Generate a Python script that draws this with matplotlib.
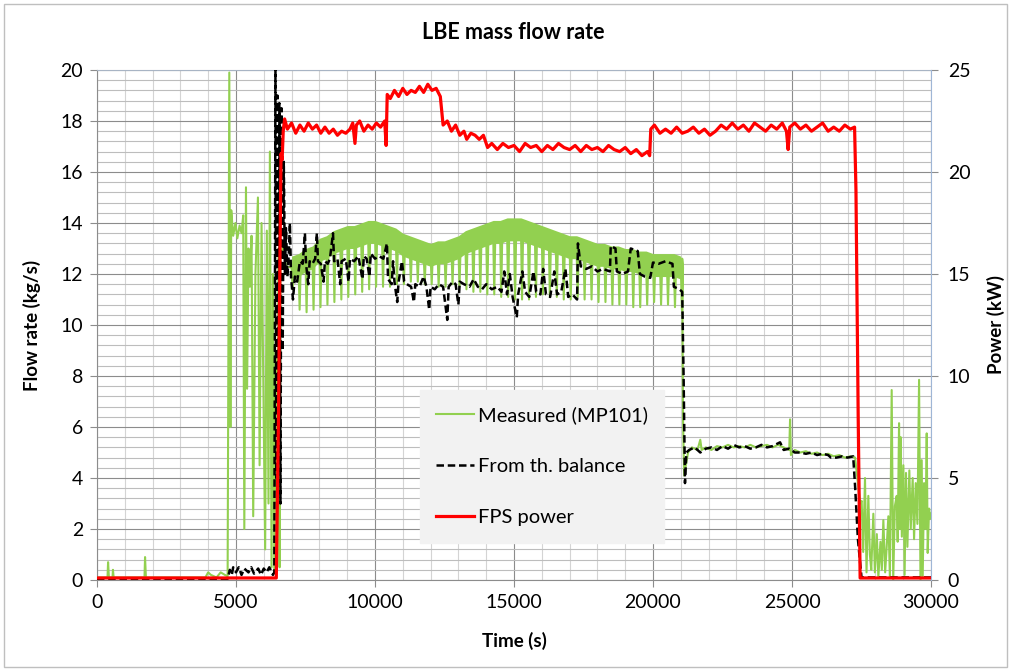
import numpy as np
import matplotlib
matplotlib.use("Agg")
import matplotlib.pyplot as plt
from matplotlib.patches import Rectangle

plt.rcParams['font.family'] = ['Lato', 'DejaVu Sans']

# ---- data ----
# FPS power (kW), right axis
red_t = [0, 6450, 6530, 6580, 6620, 6660, 6700, 6750, 6850, 7000, 7150, 7300, 7450, 7600,
         7750, 7900, 8050, 8200, 8350, 8500, 8650, 8800, 8950, 9100, 9200, 9280, 9330,
         9450, 9600, 9750, 9900, 10050, 10200, 10350, 10400, 10440, 10550, 10700, 10850,
         11000, 11150, 11300, 11450, 11600, 11750, 11900, 12050, 12200, 12350, 12450,
         12600, 12750, 12900, 13050, 13200, 13300, 13450, 13600, 13750, 13900, 14050,
         14200, 14400, 14600, 14800, 15000, 15200, 15400, 15600, 15800, 16000, 16200,
         16400, 16600, 16800, 17000, 17200, 17400, 17600, 17800, 18000, 18200, 18400,
         18600, 18800, 19000, 19200, 19400, 19600, 19800, 19880, 19920, 20050, 20250,
         20450, 20650, 20850, 21050, 21250, 21450, 21650, 21850, 22050, 22250, 22450,
         22650, 22850, 23050, 23250, 23450, 23650, 23850, 24050, 24250, 24450, 24650,
         24800, 24860, 24920, 25100, 25300, 25500, 25700, 25900, 26100, 26300, 26500,
         26700, 26900, 27100, 27250, 27300, 27380, 27450, 30000]
red_p = [0.1, 0.1, 8.0, 15.5, 20.9, 20.6, 22.0, 22.6, 22.1, 22.4, 21.9, 22.3, 22.0, 22.4,
         22.1, 22.3, 21.9, 22.2, 21.9, 22.1, 21.8, 22.0, 21.9, 22.1, 22.4, 21.4, 22.3,
         22.5, 22.0, 22.3, 22.1, 22.4, 22.2, 22.5, 21.3, 23.8, 23.6, 24.0, 23.7,
         24.1, 23.8, 24.0, 23.9, 24.2, 23.9, 24.3, 24.0, 24.1, 23.7, 22.3,
         22.5, 22.0, 22.3, 21.8, 22.0, 21.6, 21.9, 21.8, 21.6, 21.8, 21.2,
         21.4, 21.1, 21.4, 21.2, 21.3, 21.0, 21.4, 21.2, 21.3, 21.0, 21.3,
         21.1, 21.4, 21.2, 21.1, 21.3, 21.0, 21.3, 21.1, 21.2, 21.0, 21.3,
         21.1, 21.0, 21.2, 20.9, 21.1, 20.8, 21.0, 20.8, 22.1, 22.3, 21.9,
         22.1, 21.9, 22.2, 21.9, 22.0, 22.2, 21.9, 22.1, 21.8, 22.0, 22.3,
         22.1, 22.4, 22.1, 22.3, 22.0, 22.4, 22.2, 22.0, 22.3, 22.1, 22.4,
         22.0, 21.1, 22.2, 22.4, 22.1, 22.3, 22.0, 22.2, 22.4, 22.0, 22.2,
         22.0, 22.3, 22.1, 22.2, 19.1, 8.0, 0.1, 0.1]

# flow from thermal balance (kg/s)
blk_t = [0, 4700, 4780, 4850, 4900, 5000, 5100, 5200, 5300, 5450, 5550, 5650, 5800, 5900,
         6000, 6100, 6200, 6330, 6380, 6420, 6450, 6490, 6520, 6560, 6600, 6640, 6680,
         6720, 6760, 6800, 6850, 6900, 6940, 6980, 7050, 7120, 7200, 7300, 7400, 7480,
         7520, 7600, 7650, 7750, 7850, 7910, 7950, 8050, 8150, 8200, 8300, 8380, 8490,
         8530, 8650, 8750, 8800, 8950, 9050, 9100, 9250, 9400, 9550, 9600, 9700, 9800,
         9850, 10000, 10150, 10300, 10430, 10470, 10600, 10650, 10700, 10800, 10850,
         10970, 11050, 11150, 11300, 11400, 11450, 11600, 11750, 11850, 11950, 12000,
         12150, 12300, 12450, 12600, 12650, 12800, 12900, 13000, 13050, 13200, 13400,
         13550, 13700, 13850, 14000, 14200, 14400, 14550, 14650, 14750, 14850, 14950,
         15100, 15150, 15300, 15400, 15550, 15700, 15800, 15950, 16050, 16150, 16300,
         16450, 16550, 16700, 16850, 16950, 17100, 17270, 17300, 17400, 17600, 17800,
         18000, 18200, 18450, 18480, 18650, 18700, 18900, 19100, 19200, 19450, 19530,
         19700, 19900, 20000, 20200, 20450, 20700, 20750, 20950, 21050, 21100, 21150,
         21200, 21300, 21500, 21700, 21900, 22100, 22300, 22500, 22700, 22900, 23100,
         23300, 23500, 23700, 23900, 24100, 24300, 24570, 24700, 24900, 25100, 25300,
         25500, 25700, 25900, 26100, 26300, 26400, 26600, 26800, 27000, 27200, 27270,
         27370, 27500, 30000]
blk_f = [0.05, 0.05, 0.4, 0.2, 0.5, 0.3, 0.5, 0.2, 0.45, 0.3, 0.5, 0.25, 0.45, 0.2,
         0.45, 0.3, 0.5, 0.2, 0.3, 20.0, 4.0, 19.0, 6.0, 18.7, 3.0, 18.5, 9.0,
         16.4, 12.0, 13.8, 11.9, 12.8, 14.0, 11.9, 11.0, 11.9, 11.7, 12.5, 12.4, 13.6,
         12.4, 11.6, 12.5, 12.4, 12.6, 13.6, 12.5, 12.4, 11.7, 12.5, 12.4, 12.6, 13.6,
         12.5, 12.6, 11.6, 12.5, 12.6, 11.7, 12.6, 12.5, 12.7, 11.8, 12.7, 12.6, 11.9,
         12.8, 12.6, 12.7, 12.6, 13.2, 11.8, 11.6, 12.5, 11.7, 10.9, 11.7,
         12.5, 11.7, 11.6, 11.5, 10.9, 11.6, 11.5, 11.9, 11.5, 10.6, 11.5,
         11.4, 11.6, 11.5, 10.2, 11.5, 11.7, 11.6, 10.8, 11.7, 11.6, 11.5,
         11.8, 11.5, 11.4, 11.6, 11.4, 11.5, 11.3, 12.1, 11.2, 12.0, 11.1,
         10.3, 11.2, 12.1, 11.3, 11.1, 12.1, 11.3, 11.2, 12.2, 11.2, 11.1,
         12.1, 11.2, 11.3, 12.2, 11.1, 11.2, 11.0, 13.2, 12.3, 12.2, 12.3,
         12.1, 12.2, 12.1, 13.1, 13.0, 12.1, 12.0, 12.1, 13.0, 12.9, 12.0,
         11.9, 11.85, 12.45, 12.4, 12.5, 12.4, 11.5, 11.4, 11.3, 8.0, 3.8,
         5.0, 5.1, 5.2, 5.0, 5.15, 5.2, 5.1, 5.25, 5.15, 5.3, 5.2,
         5.25, 5.15, 5.2, 5.3, 5.2, 5.25, 5.4, 5.1, 5.15, 5.0, 5.0,
         4.95, 5.0, 4.9, 4.95, 4.9, 4.8, 4.8, 4.85, 4.8, 4.85, 3.65,
         1.6, 0.1, 0.1]

# measured flow MP101 (kg/s): start-up part
grn_a_t = [0, 380, 400, 430, 560, 575, 600, 1710, 1730, 1760, 3900, 4000, 4100, 4300,
           4450, 4600, 4700, 4760, 4800, 4830, 4900, 4980, 5050, 5130, 5200, 5260, 5300,
           5360, 5400, 5450, 5500, 5560, 5620, 5700, 5790, 5850, 5920, 6000, 6050, 6110,
           6170, 6220, 6280, 6330, 6380, 6430, 6480, 6530, 6570, 6600, 6700, 6800]
grn_a_f = [0.1, 0.1, 0.7, 0.1, 0.1, 0.4, 0.1, 0.1, 0.9, 0.1, 0.1, 0.3, 0.2, 0.1,
           0.3, 0.2, 0.15, 19.9, 6.0, 14.5, 13.5, 14.0, 13.4, 13.9, 13.6, 14.3, 2.0,
           15.4, 7.5, 13.0, 11.5, 13.5, 2.5, 12.0, 15.0, 4.5, 14.0, 6.0, 1.2, 13.7,
           3.0, 16.8, 0.5, 12.0, 0.3, 9.0, 2.0, 13.0, 0.5, 12.5, 13.2, 12.3]

# oscillating part: one tooth every 250 s (upper band edge / lowest point)
tooth_t = [7000, 7250, 7500, 7750, 8000, 8250, 8500, 8750, 9000, 9250, 9500, 9750,
           10000, 10250, 10500, 10750, 11000, 11250, 11500, 11750, 12000, 12250, 12500,
           12750, 13000, 13250, 13500, 13750, 14000, 14250, 14500, 14750, 15000, 15250,
           15500, 15750, 16000, 16250, 16500, 16750, 17000, 17250, 17500, 17750, 18000,
           18250, 18500, 18750, 19000, 19250, 19500, 19750, 20000, 20250, 20500, 20750,
           21000]
tooth_hi = [12.7, 12.8, 13.0, 13.1, 13.4, 13.5, 13.7, 13.8, 13.9, 13.9, 14.0, 14.1,
            14.1, 14.0, 13.9, 13.8, 13.6, 13.5, 13.4, 13.3, 13.2, 13.3, 13.3,
            13.4, 13.5, 13.7, 13.8, 13.9, 14.0, 14.1, 14.1, 14.2, 14.2, 14.2,
            14.1, 14.0, 13.9, 13.8, 13.7, 13.6, 13.5, 13.5, 13.4, 13.3, 13.2,
            13.2, 13.1, 13.1, 13.0, 13.0, 12.9, 12.9, 12.8, 12.8, 12.8, 12.8,
            12.7]
tooth_lo = [11.4, 10.6, 10.5, 10.6, 10.7, 10.8, 10.9, 11.0, 11.1, 11.2, 11.3, 11.4,
            11.5, 11.5, 11.5, 11.6, 11.6, 11.7, 11.7, 11.6, 11.6, 11.5, 11.5,
            11.6, 11.5, 11.4, 11.3, 11.3, 11.2, 11.2, 11.1, 11.1, 11.0, 11.0,
            11.0, 11.1, 11.2, 11.1, 11.1, 11.0, 11.0, 11.1, 11.0, 11.0, 10.9,
            10.9, 10.8, 10.8, 10.8, 10.7, 10.7, 10.8, 10.9, 10.8, 10.8, 10.7,
            10.6]
band = 0.9

# reduced flow and shutdown
grn_b_t = [21050, 21080, 21120, 21260, 21400, 21600, 21700, 21750, 21900, 22100, 22300,
           22500, 22700, 22900, 23100, 23300, 23500, 23700, 23900, 24100, 24300, 24500,
           24700, 24900, 24930, 24960, 25100, 25300, 25500, 25700, 25900, 26100, 26300,
           26500, 26700, 26900, 27100, 27270, 27350, 27450, 27505, 27560, 27625, 27680,
           27745, 27800, 27850, 27925, 27980, 28050, 28105, 28180, 28230, 28285, 28350,
           28400, 28465, 28520, 28585, 28640, 28700, 28765, 28800, 28850, 28880, 28910,
           28950, 29005, 29050, 29100, 29150, 29220, 29270, 29340, 29390, 29450, 29510,
           29570, 29620, 29665, 29700, 29750, 29800, 29845, 29880, 29930, 29970, 30000]
grn_b_f = [12.6, 6.3, 4.1, 5.0, 5.2, 5.1, 5.5, 5.1, 5.2, 5.1, 5.25,
           5.2, 5.3, 5.2, 5.25, 5.2, 5.3, 5.2, 5.25, 5.3, 5.2, 5.3,
           5.2, 5.1, 6.3, 4.9, 5.1, 5.0, 5.05, 4.95, 5.0, 4.9, 4.95,
           4.85, 4.9, 4.8, 4.85, 4.8, 4.0, 3.0, 3.1, 1.1, 4.0, 0.3,
           3.3, 1.0, 0.4, 2.6, 0.3, 1.8, 0.1, 1.5, 0.4, 2.35, 0.3,
           1.2, 2.5, 0.1, 7.45, 0.0, 2.9, 3.3, 1.5, 6.15, 2.0, 5.6,
           1.7, 4.5, 0.2, 4.2, 1.3, 4.3, 2.0, 4.0, 1.6, 3.8, 2.2,
           7.85, 0.0, 4.7, 0.1, 3.8, 2.0, 5.75, 1.06, 2.8, 2.4, 2.6]

# ---- build the green polyline ----
gx = list(grn_a_t)
gy = list(grn_a_f)
for t, hi, lo in zip(tooth_t, tooth_hi, tooth_lo):
    gx += [t, t + 40, t + 80]
    gy += [hi - band / 2, lo, hi - band / 2]
gx += grn_b_t
gy += grn_b_f

GREEN = '#92d050'

fig = plt.figure(figsize=(10.11, 6.71), dpi=100)
ax = fig.add_axes([0.0959, 0.1356, 0.825, 0.7601])
ax2 = ax.twinx()

ax.fill_between(tooth_t, np.array(tooth_hi) - band, tooth_hi, color=GREEN, lw=0, zorder=2)
l1, = ax.plot(gx, gy, color=GREEN, lw=1.5, zorder=3, label='Measured (MP101)')
l2, = ax.plot(blk_t, blk_f, color='black', lw=1.8, ls=(0, (3, 1.5)), zorder=4,
              label='From th. balance')
l3, = ax2.plot(red_t, red_p, color='#ff0000', lw=2.3, label='FPS power')

ax.set_xlim(0, 30000)
ax.set_ylim(0, 20)
ax2.set_ylim(0, 25)
ax.set_xticks(np.arange(0, 30001, 5000))
ax.set_xticks(np.arange(0, 30001, 1000), minor=True)
ax.set_yticks(np.arange(0, 20.1, 2))
ax.set_yticks(np.arange(0, 20.01, 0.4), minor=True)
ax2.set_yticks(np.arange(0, 25.1, 5))

ax.grid(which='major', axis='x', color='#8c8c8c', lw=0.8)
ax.grid(which='minor', axis='x', color='#d4d4d4', lw=0.8)
ax.grid(which='major', axis='y', color='#8c8c8c', lw=0.8)
ax.grid(which='minor', axis='y', color='#bdbdbd', lw=0.8)
ax.set_axisbelow(True)

ax.tick_params(which='major', direction='out', length=5, color='#8c8c8c', labelsize=14, pad=5)
ax.tick_params(which='minor', length=0)
ax2.tick_params(which='major', direction='out', length=5, color='#8c8c8c', labelsize=14, pad=7)

for s in ['left', 'bottom']:
    ax.spines[s].set_color('#8c8c8c')
ax.spines['top'].set_color('#a8b4c4')
ax2.spines['top'].set_visible(False)
ax2.spines['left'].set_visible(False)
ax2.spines['bottom'].set_visible(False)
ax2.spines['right'].set_color('#9fb6d6')
ax.spines['right'].set_visible(False)

ax.set_xlabel('Time (s)', fontsize=13.5, fontweight='bold', labelpad=15)
ax.set_ylabel('Flow rate (kg/s)', fontsize=13.5, fontweight='bold', labelpad=14)
ax2.set_ylabel('Power (kW)', fontsize=13.5, fontweight='bold', labelpad=12)
fig.text(0.508, 0.952, 'LBE mass flow rate', ha='center', va='center',
         fontsize=15.5, fontweight='bold')

leg = ax2.legend(handles=[l1, l2, l3], loc='upper left', bbox_to_anchor=(0.387, 0.373),
                 borderaxespad=0, fontsize=14.5, frameon=True, fancybox=False,
                 facecolor='#f2f2f2', edgecolor='#f2f2f2', framealpha=1,
                 handlelength=1.9, handletextpad=0.2, labelspacing=1.7, borderpad=0.8)

fig.patches.append(Rectangle((0.004, 0.006), 0.992, 0.988, transform=fig.transFigure,
                             fill=False, edgecolor='#bfbfbf', lw=1))

fig.savefig('out.png', dpi=100)
